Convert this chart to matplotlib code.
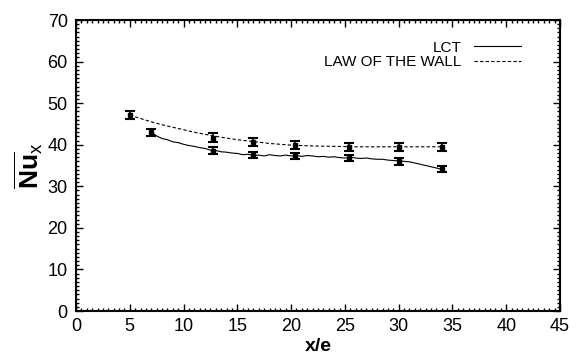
import matplotlib
matplotlib.use("Agg")
import matplotlib.pyplot as plt
from matplotlib.ticker import MultipleLocator

plt.rcParams['font.family'] = ['Liberation Sans', 'DejaVu Sans']
plt.rcParams['mathtext.fontset'] = 'custom'
plt.rcParams['mathtext.rm'] = 'Liberation Sans'
plt.rcParams['mathtext.bf'] = 'Liberation Sans:bold'
plt.rcParams['mathtext.it'] = 'Liberation Sans'

# LCT curve
lct_x = [7, 7.5, 8, 8.5, 9, 9.5, 10, 10.5, 11, 11.5, 12, 12.5, 13, 13.5, 14,
         14.5, 15, 15.5, 16, 16.5, 17, 17.5, 18, 18.5, 19, 19.5, 20, 20.5, 21,
         21.5, 22, 22.5, 23, 23.5, 24, 24.5, 25, 25.5, 26, 26.5, 27, 27.5, 28,
         28.5, 29, 29.5, 30, 30.5, 31, 31.5, 32, 32.5, 33, 33.5, 34]
lct_y = [43.0, 42.1, 41.5, 41.2, 40.7, 40.5, 40.1, 39.8, 39.6, 39.3, 39.1, 38.7,
         38.6, 38.3, 38.2, 38.0, 37.9, 37.6, 37.7, 37.4, 37.5, 37.3, 37.6, 37.4,
         37.3, 37.5, 37.3, 37.4, 37.2, 37.4, 37.3, 37.1, 37.2, 37.0, 37.1, 36.9,
         36.8, 37.0, 36.8, 36.7, 36.8, 36.6, 36.5, 36.5, 36.3, 36.2, 36.1, 36.0,
         35.9, 35.6, 35.3, 35.0, 34.7, 34.4, 34.1]

# LCT error-bar points
lct_px = [7, 12.7, 16.5, 20.4, 25.4, 30, 34]
lct_py = [43.0, 38.6, 37.5, 37.3, 36.8, 36.0, 34.1]
lct_err = [0.8, 0.8, 0.8, 0.8, 0.8, 0.8, 0.7]

# Law of the wall curve
law_x = [5, 6, 7, 8, 9, 10, 11, 12, 13, 14, 15, 16, 17, 18, 19, 20, 22, 24,
         26, 28, 30, 32, 34]
law_y = [47.1, 46.3, 45.5, 44.8, 44.2, 43.6, 43.0, 42.5, 42.0, 41.6, 41.2,
         40.9, 40.6, 40.3, 40.1, 39.9, 39.7, 39.6, 39.5, 39.5, 39.5, 39.5, 39.5]

# Law of the wall error-bar points
law_px = [5, 12.7, 16.5, 20.4, 25.4, 30, 34]
law_py = [47.1, 41.7, 40.7, 39.9, 39.5, 39.5, 39.5]
law_err = [1.0, 1.0, 0.9, 0.9, 0.9, 0.9, 0.9]

fig = plt.figure(figsize=(5.76, 3.59), dpi=100)
ax = fig.add_axes([76 / 576, 1 - 311 / 359, 484 / 576, 291 / 359])

ax.plot(lct_x, lct_y, color='black', lw=0.8, label='LCT')
ax.plot(law_x, law_y, color='black', lw=0.8, ls=(0, (3, 2)),
        label='LAW OF THE WALL')
ax.errorbar(lct_px, lct_py, yerr=lct_err, fmt='s', ms=3, color='black',
            ecolor='black', elinewidth=1.2, capsize=3.5, capthick=1.5)
ax.errorbar(law_px, law_py, yerr=law_err, fmt='s', ms=3, color='black',
            ecolor='black', elinewidth=1.2, capsize=3.5, capthick=1.5)

ax.set_xlim(0, 45)
ax.set_ylim(0, 70)
ax.xaxis.set_major_locator(MultipleLocator(5))
ax.xaxis.set_minor_locator(MultipleLocator(0.5))
ax.yaxis.set_major_locator(MultipleLocator(10))
ax.yaxis.set_minor_locator(MultipleLocator(1))
ax.tick_params(which='both', direction='in', top=True, right=True,
               labelsize=13)
ax.tick_params(axis='y', pad=6)
ax.tick_params(axis='x', pad=5)
ax.tick_params(which='major', length=5, width=1)
ax.tick_params(which='minor', length=2.5, width=1)
for s in ax.spines.values():
    s.set_linewidth(1.5)

ax.set_xlabel('x/e', fontsize=14, fontweight='bold', labelpad=2)
ax.set_ylabel(r'$\mathbf{\overline{Nu}}_{x}$', fontsize=19, labelpad=2)

ax.legend(loc='upper right', bbox_to_anchor=(0.936, 0.955), frameon=False,
          markerfirst=False, fontsize=11, handlelength=3.1,
          labelspacing=0.05, handletextpad=0.8, borderpad=0)

fig.savefig('out.png', dpi=100)
